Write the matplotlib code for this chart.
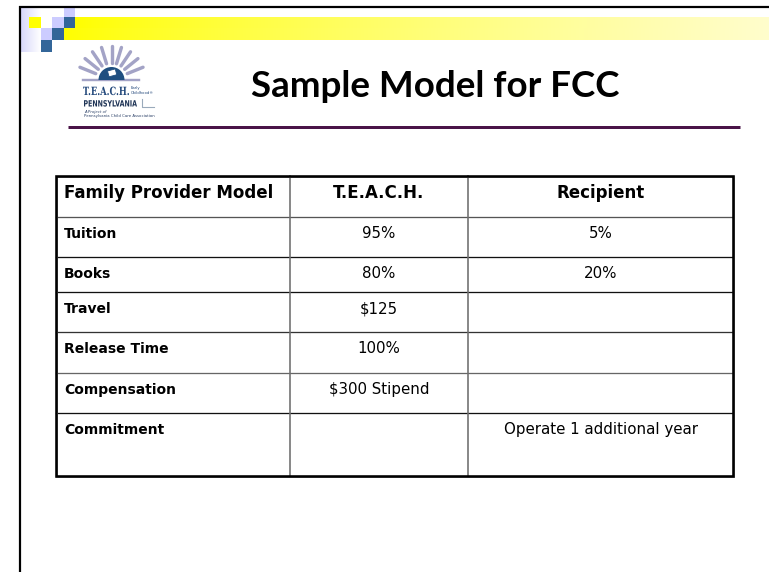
import numpy as np
import matplotlib
matplotlib.use("Agg")
import matplotlib.pyplot as plt
from matplotlib.patches import Rectangle, Wedge, PathPatch
from matplotlib.textpath import TextPath
from matplotlib.font_manager import FontProperties
from matplotlib.transforms import Affine2D

# ---------------- data ----------------
title = "Sample Model for FCC"
col_headers = ["Family Provider Model", "T.E.A.C.H.", "Recipient"]
row_labels = ["Tuition", "Books", "Travel", "Release Time", "Compensation", "Commitment"]
teach_values = ["95%", "80%", "$125", "100%", "$300 Stipend", ""]
recipient_values = ["5%", "20%", "", "", "", "Operate 1 additional year"]

# ---------------- layout (pixels) ----------------
W, H = 769, 572
col_edges = [56, 290, 468, 733]
row_edges = [176, 217, 257, 292, 332, 373, 413, 476]
hline_colors = ["#555555", "#111111", "#111111", "#333333", "#666666", "#111111"]

fig = plt.figure(figsize=(W / 100, H / 100), dpi=100)
ax = fig.add_axes([0, 0, 1, 1])
ax.set_xlim(0, W)
ax.set_ylim(H, 0)
ax.axis("off")
PX = 0.72  # points per pixel

# ---------------- slide decoration ----------------
grad = np.linspace(0, 1, 256)
c0 = np.array([1.0, 1.0, 0.0])
c1 = np.array([1.0, 0.995, 0.80])
band = (c0[None, :] * (1 - grad[:, None] ** 0.8) + c1[None, :] * grad[:, None] ** 0.8)[None, :, :]
ax.imshow(band, extent=[75, W, 28, 17], aspect="auto", zorder=1)
ax.imshow(band, extent=[64, W, 40, 28], aspect="auto", zorder=1)
lav = np.array([0.84, 0.84, 0.98])
g2 = np.linspace(0, 1, 64)
fade = (lav[None, :] * (1 - g2[:, None]) + np.ones(3)[None, :] * g2[:, None])[None, :, :]
ax.imshow(fade, extent=[20, 41, 52, 8], aspect="auto", zorder=1)

xs = [29, 41, 52, 64, 75]
ys = [8, 17, 28, 40, 52]
squares = [(3, 0, "#ccccff"), (0, 1, "#ffff00"), (2, 1, "#ccccff"), (3, 1, "#336699"),
           (1, 2, "#ccccff"), (2, 2, "#336699"), (1, 3, "#336699")]
for ci, ri, col in squares:
    ax.add_patch(Rectangle((xs[ci], ys[ri]), xs[ci + 1] - xs[ci], ys[ri + 1] - ys[ri],
                           facecolor=col, edgecolor="none", zorder=2))

ax.plot([19, W], [7, 7], color="black", lw=2.2 * PX, solid_capstyle="butt", zorder=5)
ax.plot([20, 20], [6, H], color="black", lw=2.2 * PX, solid_capstyle="butt", zorder=5)

ax.plot([68, 740], [127, 127], color="#4a1448", lw=3 * PX, solid_capstyle="butt", zorder=3)


# ---------------- logo ----------------
def fitted_text(s, x, base, width, cap, family, weight, color):
    tp = TextPath((0, 0), s, size=1, prop=FontProperties(family=family, weight=weight))
    ext = tp.get_extents()
    sx = width / ext.width
    sy = cap / 0.73
    tr = Affine2D().translate(-ext.x0, 0).scale(sx, -sy).translate(x, base) + ax.transData
    ax.add_patch(PathPatch(tp, facecolor=color, edgecolor="none", transform=tr, zorder=5))


cx, cy = 111.5, 80
ray_col = "#a3a3c6"
for ang in np.linspace(22, 158, 9):
    a = np.deg2rad(ang)
    ax.plot([cx + 17 * np.cos(a), cx + 34 * np.cos(a)],
            [cy - 17 * np.sin(a), cy - 34 * np.sin(a)],
            color=ray_col, lw=3.4 * PX, solid_capstyle="round", zorder=3)
ax.plot([83, 139], [80, 80], color=ray_col, lw=2.4 * PX, zorder=3)
ax.add_patch(Wedge((cx, cy), 13, 180, 360, facecolor="#1f4f80", edgecolor="none", zorder=4))
ax.add_patch(Rectangle((cx - 4, cy - 9), 8, 6, facecolor="white", edgecolor="#1f4f80",
                       lw=0.6, zorder=5, angle=-15))
fitted_text("T.E.A.C.H.", 83, 95, 46, 8.3, "DejaVu Serif", "bold", "#21477a")
ax.text(130.5, 89.5, "Early", fontsize=2.7, color="#21477a", ha="left", va="baseline", zorder=5)
ax.text(130.5, 94.5, "Childhood\u00ae", fontsize=2.7, color="#21477a", ha="left", va="baseline", zorder=5)
fitted_text("PENNSYLVANIA", 84, 106.5, 53, 6.3, "DejaVu Sans", "bold", "#1e3355")
ax.plot([142, 142, 154], [99, 107, 107], color="#9aaabb", lw=0.8, zorder=4)
ax.text(84, 112.5, "A Project of", fontsize=2.8, style="italic", color="#2a3f66",
        ha="left", va="baseline", zorder=5)
ax.text(84, 117.5, "Pennsylvania Child Care Association", fontsize=2.8, color="#2a3f66",
        ha="left", va="baseline", zorder=5)

# ---------------- title ----------------
ax.text(435.5, 97, title, fontsize=26.5, fontweight="bold", family="Lato",
        color="black", ha="center", va="baseline", zorder=5)

# ---------------- table ----------------
x0, x1 = col_edges[0], col_edges[-1]
for i, y in enumerate(row_edges[1:-1]):
    ax.plot([x0, x1], [y, y], color=hline_colors[i], lw=1.3 * PX, zorder=4)
for x in col_edges[1:-1]:
    ax.plot([x, x], [row_edges[0], row_edges[-1]], color="#6e6e6e", lw=1.6 * PX, zorder=4)
ax.add_patch(Rectangle((x0 + 1, row_edges[0] + 1), x1 - x0, row_edges[-1] - row_edges[0],
                       facecolor="none", edgecolor="#b0b0b0", lw=2 * PX, zorder=4))
ax.add_patch(Rectangle((x0, row_edges[0]), x1 - x0, row_edges[-1] - row_edges[0],
                       facecolor="none", edgecolor="black", lw=2.6 * PX, zorder=5))

centers = [(col_edges[i] + col_edges[i + 1]) / 2 for i in range(3)]
tfont = "DejaVu Sans"
ax.text(col_edges[0] + 8, row_edges[0] + 22, col_headers[0], fontsize=12, fontweight="bold",
        family=tfont, ha="left", va="baseline", zorder=6)
for j in (1, 2):
    ax.text(centers[j], row_edges[0] + 22, col_headers[j], fontsize=12, fontweight="bold",
            family=tfont, ha="center", va="baseline", zorder=6)
for i, lab in enumerate(row_labels):
    base = row_edges[i + 1] + 21
    ax.text(col_edges[0] + 8, base, lab, fontsize=10, fontweight="bold", family=tfont,
            ha="left", va="baseline", zorder=6)
    ax.text(centers[1], base, teach_values[i], fontsize=10.8, family=tfont,
            ha="center", va="baseline", zorder=6)
    ax.text(centers[2], base, recipient_values[i], fontsize=10.8, family=tfont,
            ha="center", va="baseline", zorder=6)

fig.savefig("out.png", dpi=100, facecolor="white")
